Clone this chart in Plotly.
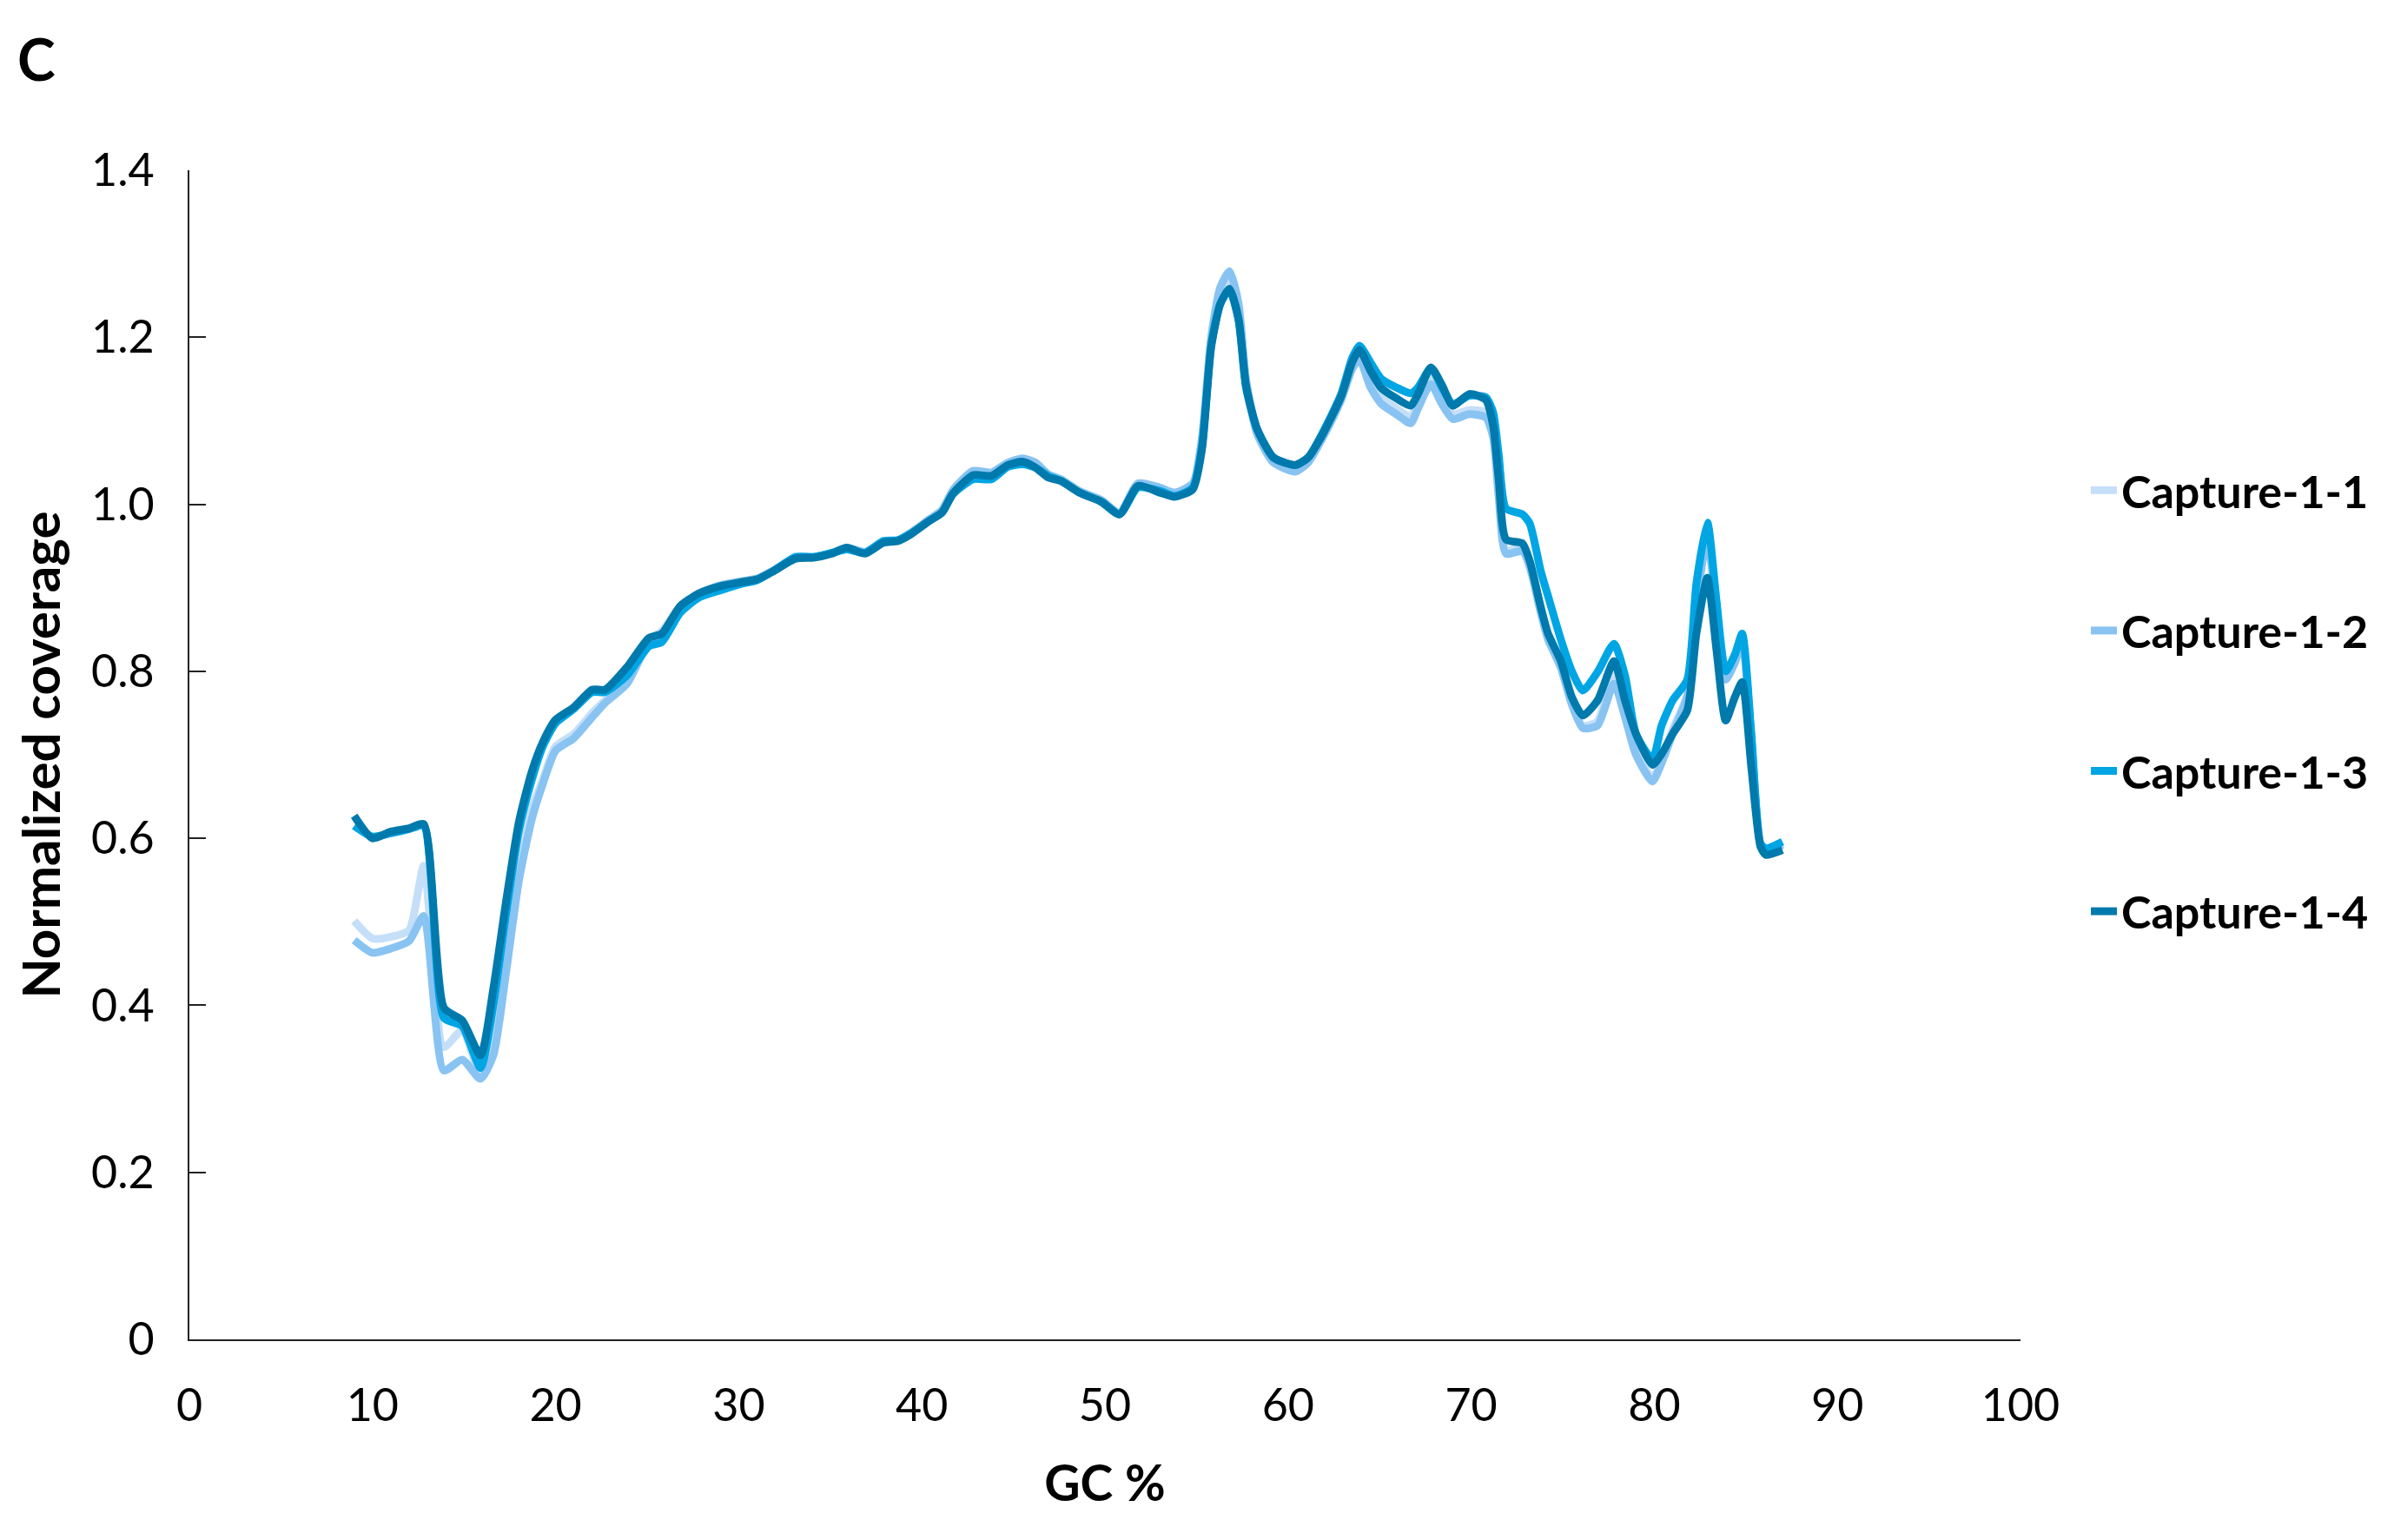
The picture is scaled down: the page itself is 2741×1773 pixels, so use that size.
import plotly.graph_objects as go

gc_percent = [
    9, 10, 11, 12, 12.8, 13.9, 14.9, 15.9, 16.6, 17.3,
    18, 18.7, 19.3, 20, 21, 22, 22.7, 23.9, 25.1, 25.8,
    26.8, 27.8, 29, 30.2, 31, 31.9, 33.1, 34.1, 35.1, 35.9,
    36.9, 37.9, 38.7, 39.4, 40.4, 41.1, 41.7, 42.8, 43.8, 44.7,
    45.5, 46.2, 46.9, 47.6, 48.6, 49.8, 50.8, 51.8, 53, 53.8,
    54.8, 55.3, 55.8, 56.3, 56.8, 57.3, 57.7, 58.3, 59.2, 60.4,
    61.1, 61.9, 62.9, 63.5, 63.9, 64.5, 65.1, 65.9, 66.7, 67.1,
    67.8, 68.4, 69, 69.9, 70.8, 71.2, 71.5, 71.9, 72.8, 73.2,
    73.8, 74.2, 74.9, 75.5, 76.1, 76.9, 77.8, 78.4, 79, 79.9,
    80.4, 81, 81.8, 82.3, 82.9, 83.4, 83.9, 84.4, 84.8, 85.3,
    85.8, 86.1, 87,
]

capture_1_1 = [
    0.501, 0.480, 0.482, 0.490, 0.567, 0.350, 0.370, 0.318, 0.360, 0.470,
    0.570, 0.635, 0.670, 0.710, 0.725, 0.750, 0.765, 0.790, 0.838, 0.848,
    0.877, 0.893, 0.902, 0.907, 0.910, 0.920, 0.935, 0.937, 0.941, 0.947,
    0.942, 0.955, 0.957, 0.965, 0.981, 0.992, 1.015, 1.038, 1.036, 1.049,
    1.053, 1.048, 1.035, 1.029, 1.015, 1.004, 0.989, 1.024, 1.018, 1.012,
    1.022, 1.075, 1.195, 1.252, 1.270, 1.232, 1.148, 1.088, 1.053, 1.043,
    1.053, 1.082, 1.127, 1.165, 1.178, 1.150, 1.128, 1.115, 1.105, 1.122,
    1.152, 1.128, 1.108, 1.113, 1.110, 1.085, 1.015, 0.945, 0.948, 0.928,
    0.872, 0.840, 0.806, 0.762, 0.735, 0.740, 0.800, 0.752, 0.705, 0.672,
    0.695, 0.730, 0.772, 0.885, 0.962, 0.872, 0.792, 0.812, 0.837, 0.722,
    0.593, 0.586, 0.593,
]

capture_1_2 = [
    0.478, 0.463, 0.468, 0.477, 0.507, 0.322, 0.335, 0.312, 0.340, 0.440,
    0.550, 0.623, 0.665, 0.705, 0.720, 0.745, 0.762, 0.785, 0.835, 0.845,
    0.875, 0.893, 0.903, 0.908, 0.911, 0.921, 0.936, 0.937, 0.942, 0.948,
    0.943, 0.955, 0.957, 0.966, 0.982, 0.993, 1.017, 1.040, 1.038, 1.050,
    1.055, 1.050, 1.036, 1.030, 1.016, 1.005, 0.990, 1.025, 1.020, 1.014,
    1.025, 1.080, 1.200, 1.260, 1.279, 1.240, 1.150, 1.085, 1.050, 1.039,
    1.050, 1.080, 1.125, 1.162, 1.174, 1.140, 1.120, 1.108, 1.097, 1.115,
    1.144, 1.120, 1.102, 1.108, 1.104, 1.080, 1.010, 0.941, 0.944, 0.925,
    0.870, 0.838, 0.804, 0.760, 0.732, 0.735, 0.785, 0.745, 0.700, 0.668,
    0.690, 0.725, 0.770, 0.880, 0.960, 0.870, 0.790, 0.810, 0.835, 0.720,
    0.592, 0.585, 0.592,
]

capture_1_3 = [
    0.615, 0.602, 0.606, 0.611, 0.615, 0.385, 0.375, 0.325, 0.400, 0.510,
    0.610, 0.670, 0.710, 0.738, 0.755, 0.775, 0.775, 0.795, 0.830, 0.835,
    0.870, 0.888, 0.897, 0.905, 0.909, 0.920, 0.937, 0.937, 0.942, 0.946,
    0.942, 0.956, 0.957, 0.965, 0.980, 0.990, 1.012, 1.030, 1.030, 1.045,
    1.048, 1.044, 1.034, 1.028, 1.014, 1.003, 0.988, 1.020, 1.016, 1.010,
    1.020, 1.070, 1.190, 1.240, 1.257, 1.220, 1.140, 1.090, 1.056, 1.047,
    1.056, 1.086, 1.132, 1.175, 1.190, 1.170, 1.150, 1.140, 1.133, 1.140,
    1.163, 1.140, 1.120, 1.130, 1.128, 1.110, 1.060, 0.995, 0.988, 0.977,
    0.920, 0.890, 0.838, 0.800, 0.777, 0.799, 0.833, 0.795, 0.725, 0.695,
    0.735, 0.765, 0.790, 0.905, 0.978, 0.884, 0.800, 0.820, 0.845, 0.725,
    0.594, 0.588, 0.596,
]

capture_1_4 = [
    0.627, 0.600, 0.608, 0.612, 0.617, 0.397, 0.382, 0.340, 0.420, 0.525,
    0.620, 0.680, 0.715, 0.742, 0.757, 0.778, 0.778, 0.805, 0.840, 0.845,
    0.878, 0.893, 0.902, 0.907, 0.910, 0.920, 0.935, 0.936, 0.941, 0.948,
    0.941, 0.954, 0.956, 0.964, 0.980, 0.990, 1.013, 1.035, 1.034, 1.047,
    1.051, 1.044, 1.032, 1.028, 1.014, 1.003, 0.988, 1.022, 1.014, 1.009,
    1.018, 1.066, 1.188, 1.240, 1.258, 1.222, 1.143, 1.091, 1.056, 1.047,
    1.056, 1.084, 1.129, 1.170, 1.185, 1.160, 1.139, 1.127, 1.118, 1.132,
    1.164, 1.143, 1.118, 1.132, 1.125, 1.094, 1.031, 0.958, 0.953, 0.932,
    0.877, 0.845, 0.812, 0.769, 0.747, 0.765, 0.812, 0.765, 0.725, 0.688,
    0.701, 0.725, 0.753, 0.845, 0.912, 0.825, 0.741, 0.769, 0.787, 0.685,
    0.590, 0.580, 0.586,
]

series_names = ["Capture-1-1", "Capture-1-2", "Capture-1-3", "Capture-1-4"]
series_values = [capture_1_1, capture_1_2, capture_1_3, capture_1_4]
series_colors = ["#C5DFF8", "#88C3F2", "#00A5E3", "#0079AC"]

y_ticks = [0, 0.2, 0.4, 0.6, 0.8, 1.0, 1.2, 1.4]
y_tick_labels = ["0", "0.2", "0.4", "0.6", "0.8", "1.0", "1.2", "1.4"]
x_ticks = [0, 10, 20, 30, 40, 50, 60, 70, 80, 90, 100]

FONT = "Lato"

fig = go.Figure()
for i, (name, vals, col) in enumerate(zip(series_names, series_values, series_colors)):
    assert len(vals) == len(gc_percent)
    fig.add_trace(go.Scatter(
        x=gc_percent, y=vals, name=name, mode="lines",
        line=dict(color=col, width=9, shape="spline", smoothing=0.6),
        legendgroup=f"g{i}",
    ))

# page body has an 8px margin; compensate so the plot lands where the reference has it
OFF = 8
W, H = 2741, 1773
PX0, PX1, PY0, PY1 = 218 - OFF, 2326 - OFF, 196 - OFF, 1542 - OFF
L, R, T, B = PX0, W - PX1, PY0, H - PY1
pw, ph = PX1 - PX0, PY1 - PY0

def px_x(x):
    return (x - OFF - PX0) / pw

def px_y(y):
    return (PY1 - (y - OFF)) / ph

fig.update_layout(
    width=W, height=H,
    margin=dict(l=L, r=R, t=T, b=B, autoexpand=False),
    paper_bgcolor="white", plot_bgcolor="white",
    font=dict(family=FONT, size=52, color="black"),
    showlegend=True,
    legend=dict(
        x=px_x(2402), xanchor="left", y=px_y(524), yanchor="top",
        font=dict(family=FONT, size=52, color="black", weight="bold"),
        tracegroupgap=91, bgcolor="rgba(0,0,0,0)",
        itemwidth=30,
    ),
    xaxis=dict(
        range=[0, 100], tickvals=x_ticks, showgrid=False, zeroline=False,
        showline=True, linecolor="#222222", linewidth=2, ticks="",
        tickfont=dict(family=FONT, size=52), ticklabelstandoff=30,
        title=dict(text="GC %", font=dict(family=FONT, size=57, weight="bold"), standoff=42),
    ),
    yaxis=dict(
        range=[0, 1.4], tickvals=y_ticks, ticktext=y_tick_labels,
        showgrid=False, zeroline=False, showline=True, linecolor="#222222",
        linewidth=2, ticks="inside", ticklen=19, tickwidth=2, tickcolor="#222222",
        tickfont=dict(family=FONT, size=52), ticklabelstandoff=28,
        title=dict(text="Normalized coverage", font=dict(family=FONT, size=60, weight="bold"), standoff=16),
    ),
    annotations=[dict(
        text="C", xref="paper", yref="paper", x=px_x(18), y=px_y(68),
        xanchor="left", yanchor="middle", showarrow=False,
        font=dict(family=FONT, size=66, color="black", weight="bold"),
    )],
)

fig.write_html("out.html")
